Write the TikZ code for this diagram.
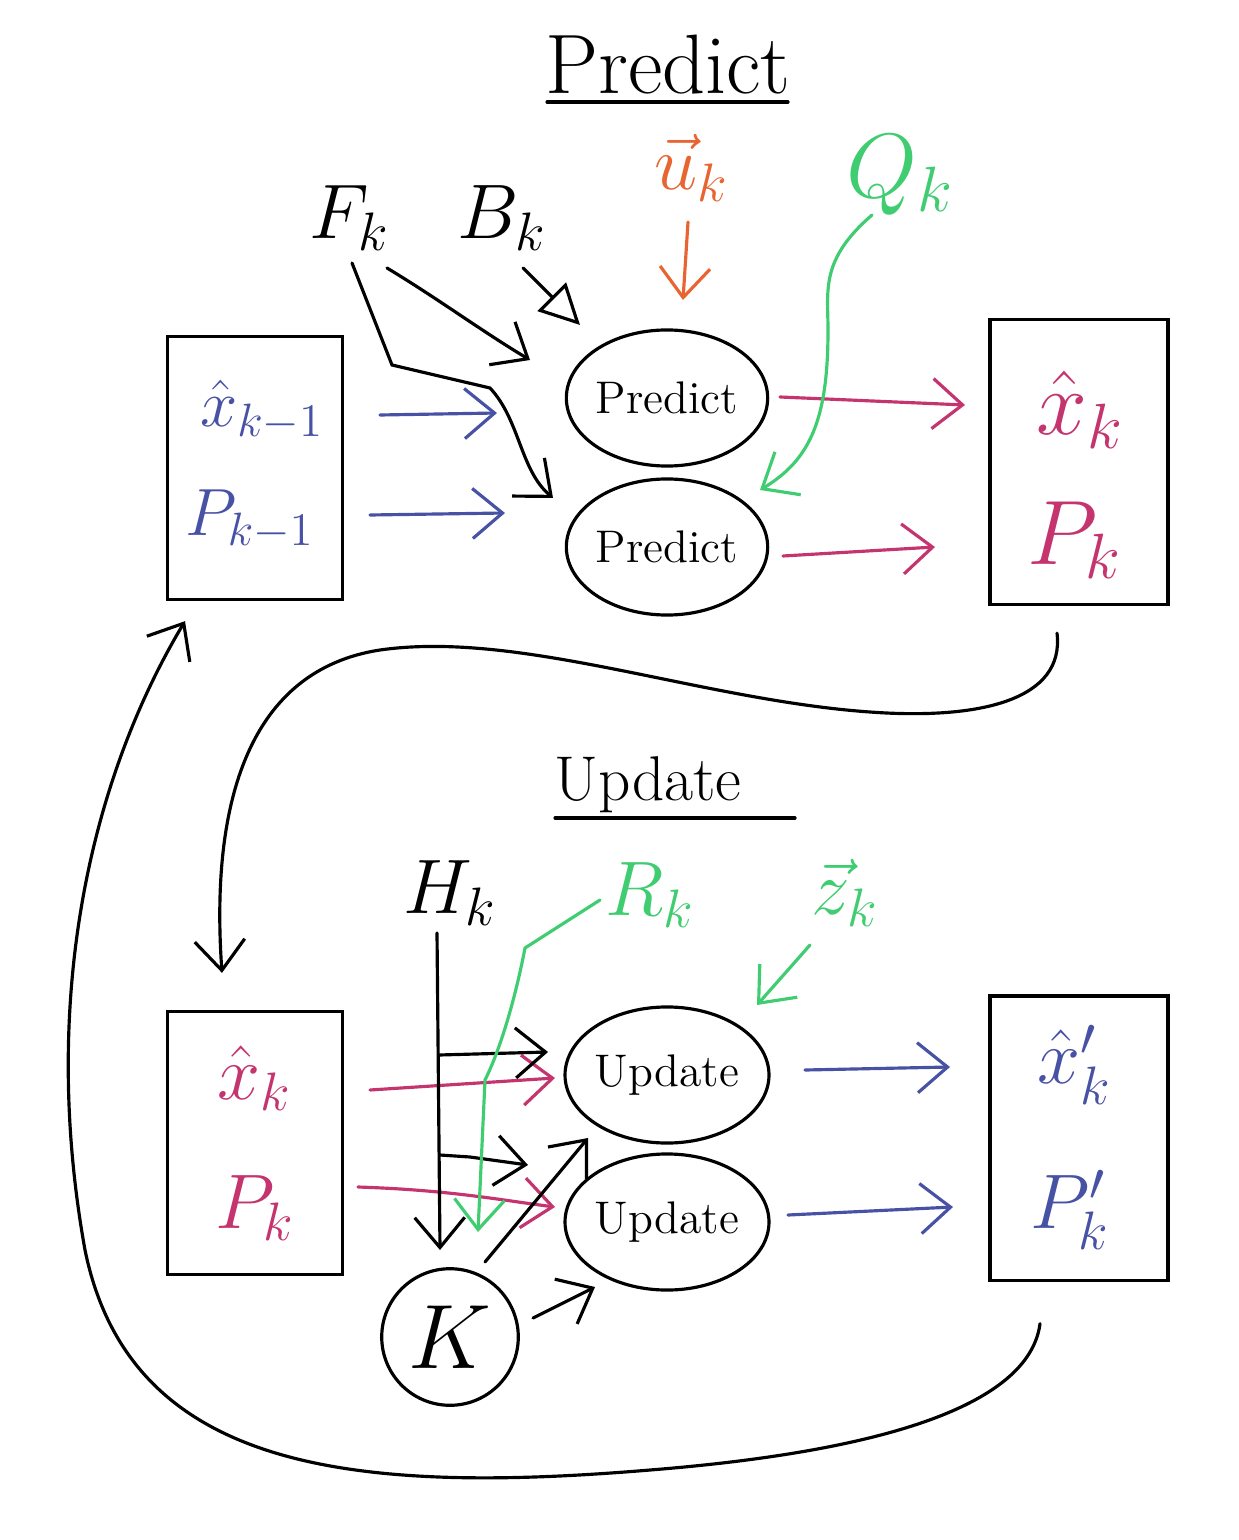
\RequirePackage{fix-cm}
\documentclass[tikz,border=0pt]{standalone}
\usepackage{amsmath}
\usepackage{tikz}
\usetikzlibrary{shapes.geometric, arrows.meta}
\usepackage{xcolor}
\definecolor{kblue}{RGB}{72,82,164}
\definecolor{kpink}{RGB}{196,52,110}
\definecolor{kgreen}{RGB}{64,204,112}
\definecolor{korange}{RGB}{232,100,48}

\begin{document}
\begin{tikzpicture}[x=0.01cm, y=-0.01cm, line width=0.9pt, line cap=round,
    arr/.style={-{Straight Barb[length=3mm,width=5mm]}},
    box/.style={draw, minimum width=1.75cm, minimum height=2.63cm},
    blob/.style={draw, ellipse, minimum width=1.96cm, minimum height=1.36cm, inner sep=0pt, font=\fontsize{13}{15}\selectfont},
    lbl/.style={font=\fontsize{22}{26}\selectfont}]
    % Frame
    \useasboundingbox (0,0) rectangle (1238,1540);
    % Predict step
    \node[font=\fontsize{24}{28}\selectfont] (ptitle) at (668,65) {Predict};
    \draw ([shift={(-121,37)}]ptitle.center) -- ([shift={(120,37)}]ptitle.center);
    \node[box] (oldbox) at (255,468) {};
    \node[lbl, text=kblue, font=\fontsize{19}{23}\selectfont] (oldx) at (262,410) {$\hat{x}_{k-1}$};
    \node[lbl, text=kblue, font=\fontsize{19}{23}\selectfont] (oldp) at (250,520) {$P_{k-1}$};
    \node[blob] (predx) at (667,398) {Predict};
    \node[blob] (predp) at (667,547) {Predict};
    \node[box, minimum width=1.78cm, minimum height=2.85cm] (newbox) at (1079,462) {};
    \node[lbl, text=kpink, font=\fontsize{26}{30}\selectfont] (newx) at (1080,410) {$\hat{x}_{k}$};
    \node[lbl, text=kpink, font=\fontsize{26}{30}\selectfont] (newp) at (1075,540) {$P_{k}$};
    % Inputs
    \node[lbl] (fk) at (350,218) {$F_k$};
    \node[lbl] (bk) at (502,218) {$B_k$};
    \node[lbl, text=korange] (uk) at (692,168) {$\vec{u}_k$};
    \node[lbl, text=kgreen, font=\fontsize{26}{30}\selectfont] (qk) at (900,175) {$Q_k$};
    % Predict arrows
    \draw[arr, kblue] ([shift={(118,5)}]oldx.center) -- ([shift={(-170,15)}]predx.center);
    \draw[arr, kblue] ([shift={(120,-5)}]oldp.center) -- ([shift={(-162,-34)}]predp.center);
    \draw[arr, kpink] ([shift={(113,-1)}]predx.center) -- ([shift={(-115,-5)}]newx.center);
    \draw[arr, kpink] ([shift={(116,9)}]predp.center) -- ([shift={(-140,7)}]newp.center);
    \draw[arr, korange] ([shift={(-4,54)}]uk.center) -- ([shift={(16,-98)}]predx.center);
    \draw[arr, kgreen] ([shift={(-28,40)}]qk.center) .. controls (820,260) and (828,290) .. (828,330)
        .. controls (828,420) and (810,460) .. ([shift={(93,-57)}]predp.center);
    \draw[arr] ([shift={(37,50)}]fk.center) .. controls (440,300) and (480,330) .. ([shift={(-137,-38)}]predx.center);
    \draw[arr] ([shift={(2,45)}]fk.center) -- (392,365) -- (490,388) .. controls (520,420) and (520,470) .. ([shift={(-114,-49)}]predp.center);
    \draw[-{Triangle[open,length=4mm,width=4mm]}] ([shift={(21,50)}]bk.center) -- ([shift={(-87,-73)}]predx.center);
    % Update step
    \node[font=\fontsize{18}{22}\selectfont] (utitle) at (648,785) {Update};
    \draw ([shift={(-93,33)}]utitle.center) -- ([shift={(147,33)}]utitle.center);
    \node[box] (priorbox) at (255,1143) {};
    \node[lbl, text=kpink] (px) at (255,1078) {$\hat{x}_{k}$};
    \node[lbl, text=kpink] (pp) at (255,1208) {$P_{k}$};
    \node[blob] (updx) at (667,1075) {Update};
    \node[blob] (updp) at (667,1222) {Update};
    \node[box, minimum width=1.78cm, minimum height=2.84cm] (postbox) at (1079,1138) {};
    \node[lbl, text=kblue] (cx) at (1075,1065) {$\hat{x}'_{k}$};
    \node[lbl, text=kblue] (cp) at (1070,1210) {$P'_{k}$};
    \node[draw, circle, minimum size=1.34cm, font=\fontsize{26}{30}\selectfont] (gain) at (450,1337) {$K$};
    % Inputs
    \node[lbl] (hk) at (450,893) {$H_k$};
    \node[lbl, text=kgreen] (rk) at (650,895) {$R_k$};
    \node[lbl, text=kgreen] (zk) at (845,893) {$\vec{z}_k$};
    % Update arrows
    \draw[arr, kpink] ([shift={(115,12)}]px.center) -- ([shift={(-112,3)}]updx.center);
    \draw[arr, kpink] ([shift={(103,-21)}]pp.center) .. controls (450,1190) and (500,1200) .. ([shift={(-112,-15)}]updp.center);
    \draw[arr, kblue] ([shift={(138,-5)}]updx.center) -- ([shift={(-125,2)}]cx.center);
    \draw[arr, kblue] ([shift={(121,-7)}]updp.center) -- ([shift={(-117,-3)}]cp.center);
    \draw[arr] ([shift={(-13,40)}]hk.center) -- ([shift={(-10,-87)}]gain.center);
    \coordinate (hka) at (439,1055);
    \coordinate (hkb) at (440,1155);
    \draw[arr] (hka) -- ([shift={(-119,-23)}]updx.center);
    \draw[arr] (hkb) -- (470,1157) -- ([shift={(-139,-57)}]updp.center);
    \draw[arr, kgreen] ([shift={(-50,5)}]rk.center) -- (525,948) .. controls (515,1000) and (500,1050) .. (485,1080)
        -- ([shift={(28,-105)}]gain.center);
    \draw[arr, kgreen] ([shift={(-35,52)}]zk.center) -- ([shift={(90,-70)}]updx.center);
    \draw[arr] ([shift={(35,-75)}]gain.center) -- ([shift={(-79,63)}]updx.center);
    \draw[arr] ([shift={(83,-19)}]gain.center) -- ([shift={(-72,65)}]updp.center);
    % Loops
    \draw[arr] ([shift={(-22,27)}]newbox.south) .. controls (1065,700) and (980,720) .. (870,712)
        .. controls (700,700) and (520,630) .. (380,650)
        .. controls (250,670) and (210,800) .. ([shift={(-33,-37)}]priorbox.north);
    \draw[arr] ([shift={(-39,42)}]postbox.south) .. controls (1030,1400) and (900,1450) .. (650,1470)
        .. controls (350,1495) and (130,1470) .. (85,1250)
        .. controls (40,1000) and (90,780) .. ([shift={(-70,20)}]oldbox.south);
\end{tikzpicture}
\end{document}
